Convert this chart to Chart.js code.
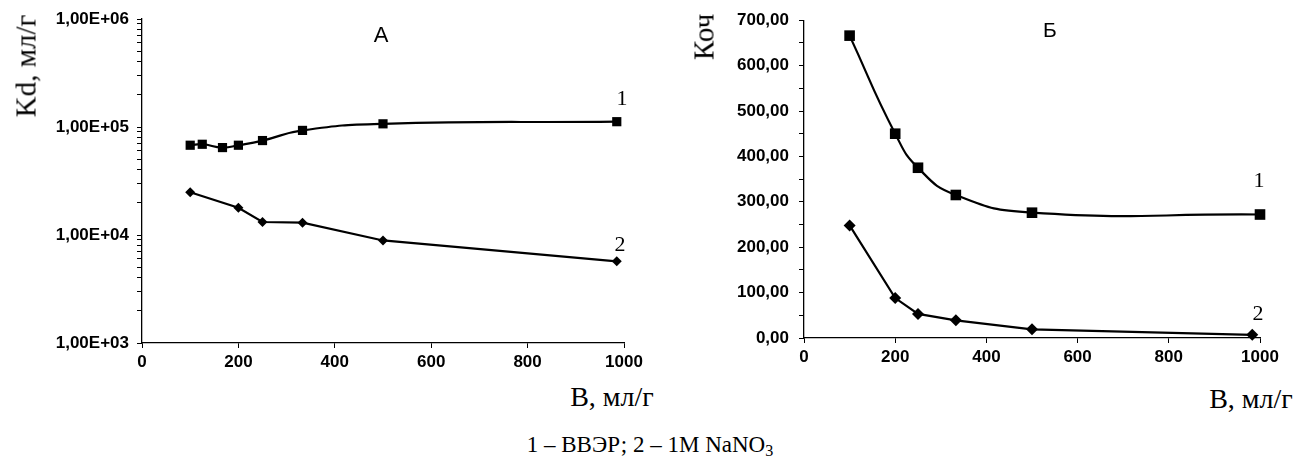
<!DOCTYPE html>
<html lang="ru">
<head>
<meta charset="utf-8">
<title>Kd и Коч</title>
<script src="https://cdn.jsdelivr.net/npm/chart.js@4.4.1/dist/chart.umd.min.js"></script>
<style>
  html, body { margin: 0; padding: 0; background: #fff; }
  #page { position: relative; width: 1307px; height: 459px; overflow: hidden; }
  canvas { position: absolute; top: 0; }
  #chart-kd { left: 0; }
  #chart-koch { left: 660px; }
  .t {
    position: absolute;
    transform: translate(-50%, -50%);
    white-space: nowrap;
    color: #000;
    font-family: "Liberation Serif", "Times New Roman", serif;
    line-height: 1;
  }
  .rot { transform: translate(-50%, -50%) rotate(-90deg); }
  .sans { font-family: "Liberation Sans", Arial, sans-serif; }
  sub { font-size: 0.7em; vertical-align: -0.25em; }
</style>
</head>
<body>
<div id="page">
  <canvas id="chart-kd" width="660" height="380"></canvas>
  <canvas id="chart-koch" width="647" height="380"></canvas>

  <div class="t rot" style="left:26px; top:66px; font-size:29px">Kd, мл/г</div>
  <div class="t sans" style="left:381px; top:35px; font-size:22px">А</div>
  <div class="t" style="left:622px; top:98px; font-size:22px">1</div>
  <div class="t" style="left:620px; top:244px; font-size:22px">2</div>
  <div class="t" style="left:612px; top:397px; font-size:28px">B, мл/г</div>

  <div class="t rot" style="left:704px; top:37px; font-size:29px">Коч</div>
  <div class="t sans" style="left:1050px; top:29px; font-size:21px">Б</div>
  <div class="t" style="left:1259px; top:180px; font-size:22px">1</div>
  <div class="t" style="left:1258px; top:313px; font-size:22px">2</div>
  <div class="t" style="left:1251px; top:399px; font-size:28px">B, мл/г</div>

  <div class="t" style="left:650px; top:446px; font-size:23px">1 – ВВЭР; 2 – 1M NaNO<sub>3</sub></div>
</div>

<script>
// chart А: Kd, log scale
const kdVolume1 = [100, 125, 167, 200, 250, 333, 500, 985];
const kdVver = [67800, 69200, 64500, 67800, 74900, 93000, 107000, 112000];
const kdVolume2 = [100, 200, 250, 333, 500, 985];
const kdNano3 = [24900, 17900, 13200, 13000, 8900, 5700];
const kdTickValues = [1e3, 1e4, 1e5, 1e6];
const kdTickLabels = ['1,00E+03', '1,00E+04', '1,00E+05', '1,00E+06'];

// chart Б: Коч
const kochVolume1 = [100, 200, 250, 333, 500, 1000];
const kochVver = [666, 450, 375, 315, 276, 272];
const kochVolume2 = [100, 200, 250, 333, 500, 983];
const kochNano3 = [248, 88, 53, 39, 19, 7];

const volumeTicks = [0, 200, 400, 600, 800, 1000];

const TICK_FONT = { family: '"Liberation Sans", Arial, sans-serif', size: 17, weight: 'bold' };

function pts(xs, ys) {
  return xs.map((x, i) => ({ x, y: ys[i] }));
}

// minor ticks 2..9 inside every decade
function logTicks(decades) {
  const out = [];
  for (let i = 0; i < decades.length; i++) {
    const d = decades[i];
    out.push(d);
    if (i < decades.length - 1) {
      for (let m = 2; m <= 9; m++) out.push(d * m);
    }
  }
  return out;
}

const axisGrid = {
  display: true,
  drawOnChartArea: false,
  drawTicks: true,
  tickLength: 5,
  color: '#000',
  lineWidth: 1,
};
const axisBorder = { display: true, color: '#000', width: 1.3 };

function xScale(height) {
  return {
    type: 'linear',
    min: 0,
    max: 1000,
    afterBuildTicks: (s) => { s.ticks = volumeTicks.map((v) => ({ value: v })); },
    afterFit: (s) => { s.height = height; },
    ticks: {
      color: '#000',
      font: TICK_FONT,
      padding: 4,
      autoSkip: false,
      maxRotation: 0,
      callback: (v) => String(v),
    },
    grid: axisGrid,
    border: axisBorder,
  };
}

function seriesVver(data, r) {
  return {
    data,
    borderColor: '#000',
    borderWidth: 2.2,
    tension: 0.5,
    pointStyle: 'rect',
    pointRadius: r,
    pointBackgroundColor: '#000',
    pointBorderColor: '#000',
    pointBorderWidth: 0,
    clip: false,
  };
}

function seriesNano3(data, r) {
  return {
    data,
    borderColor: '#000',
    borderWidth: 2.2,
    tension: 0,
    pointStyle: 'rectRot',
    pointRadius: r,
    pointBackgroundColor: '#000',
    pointBorderColor: '#000',
    pointBorderWidth: 0,
    clip: false,
  };
}

const baseOptions = {
  responsive: false,
  animation: false,
  events: [],
  plugins: { legend: { display: false }, tooltip: { enabled: false } },
};

const kdMinor = logTicks(kdTickValues);

new Chart(document.getElementById('chart-kd'), {
  type: 'line',
  data: {
    datasets: [
      seriesVver(pts(kdVolume1, kdVver), 6.5),
      seriesNano3(pts(kdVolume2, kdNano3), 5),
    ],
  },
  options: {
    ...baseOptions,
    layout: { padding: { top: 19, right: 36, left: 0, bottom: 0 } },
    scales: {
      x: xScale(37),
      y: {
        type: 'logarithmic',
        min: 1e3,
        max: 1e6,
        afterBuildTicks: (s) => { s.ticks = kdMinor.map((v) => ({ value: v })); },
        afterFit: (s) => { s.width = 142; },
        ticks: {
          color: '#000',
          font: TICK_FONT,
          padding: 8,
          autoSkip: false,
          callback: (v) => {
            const i = kdTickValues.indexOf(v);
            return i >= 0 ? kdTickLabels[i] : '';
          },
        },
        grid: axisGrid,
        border: axisBorder,
      },
    },
  },
});

new Chart(document.getElementById('chart-koch'), {
  type: 'line',
  data: {
    datasets: [
      seriesVver(pts(kochVolume1, kochVver), 7.5),
      seriesNano3(pts(kochVolume2, kochNano3), 6),
    ],
  },
  options: {
    ...baseOptions,
    layout: { padding: { top: 11, right: 47, left: 0, bottom: 0 } },
    scales: {
      x: xScale(42),
      y: {
        type: 'linear',
        min: 0,
        max: 700,
        afterFit: (s) => { s.width = 144; },
        ticks: {
          stepSize: 50,
          color: '#000',
          font: TICK_FONT,
          padding: 10,
          autoSkip: false,
          callback: (v) => (v % 100 === 0 ? v.toFixed(2).replace('.', ',') : ''),
        },
        grid: axisGrid,
        border: axisBorder,
      },
    },
  },
});
</script>
</body>
</html>
